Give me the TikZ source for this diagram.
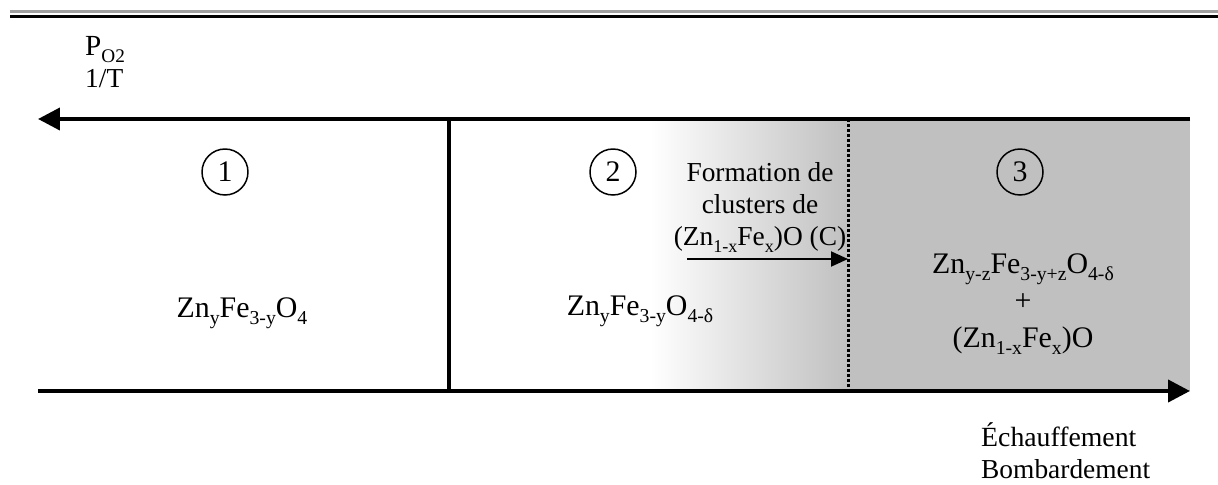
\documentclass[tikz,border=0pt]{standalone}
\usepackage{fontspec}
\setmainfont{Liberation Serif}
\usepackage{xcolor}
\usetikzlibrary{arrows.meta,positioning,calc}

\definecolor{zonegray}{RGB}{192,192,192}
\definecolor{rulegray}{RGB}{160,160,160}
\makeatletter
\newcommand{\sbs}[1]{\raisebox{-0.26em}{\fontsize{\fpeval{0.66*\f@size}}{0}\selectfont #1}}
\makeatother
\newcommand{\txtsize}{\fontsize{15.6}{18.2}\selectfont}
\newcommand{\fmlsize}{\fontsize{17}{21}\selectfont}

\begin{document}
\begin{tikzpicture}[
  x=0.02cm, y=-0.02cm,
  axis/.style={line width=0.08cm, -{Triangle[length=0.44cm, width=0.44cm]}},
  num/.style={draw, circle, line width=0.85pt, minimum size=0.92cm, inner sep=0pt, font=\fmlsize},
  phase/.style={font=\fmlsize, anchor=base, align=center},
  lbl/.style={font=\txtsize, align=center},
  sep/.style={line width=0.07cm},
  dotsep/.style={line width=0.06cm, dash pattern=on 0.06cm off 0.04cm}
]
\useasboundingbox (0,0) rectangle (1218,484);

% gray zone
\shade[left color=white, right color=zonegray] (650,119) rectangle (848,391);
\fill[zonegray] (848,119) rectangle (1190,391);

% top rule
\draw[rulegray, line width=0.054cm] (10,11.7) -- (1218,11.7);
\draw[line width=0.066cm] (10,16.7) -- (1218,16.7);

\coordinate (tr) at (1190,119);
\coordinate (tl) at (38,119);
\coordinate (bl) at (38,391);
\coordinate (br) at (1190,391);
\coordinate (s1t) at (449,119);
\coordinate (s1b) at (449,391);
\coordinate (s2t) at (848,119);
\coordinate (s2b) at (848,391);
\coordinate (cl) at (687,259);
\coordinate (cr) at (848,259);

\node[num] (n1) at (225,172) {1};
\node[num] (n2) at (613,172) {2};
\node[num] (n3) at (1020,172) {3};

\node[phase] (f1) at (242,317) {Zn\sbs{y}Fe\sbs{3-y}O\sbs{4}};
\node[phase] (f2) at (640,315) {Zn\sbs{y}Fe\sbs{3-y}O\sbs{4-δ}};
% base = last line
\node[phase] (f3) at (1023,347) {Zn\sbs{y-z}Fe\sbs{3-y+z}O\sbs{4-δ}\\+\\(Zn\sbs{1-x}Fe\sbs{x})O};

\node[lbl, anchor=base] (clus) at (760,245) {\fontsize{15.6}{18.4}\selectfont Formation de\\clusters de\\(Zn\sbs{1-x}Fe\sbs{x})O (C)};

\node[lbl, align=left, anchor=base west] (po2) at (79,87) {\fontsize{16.6}{22.5}\selectfont P\sbs{O2}\\1/T};
\node[lbl, align=left, anchor=base west] (heat) at (975,478) {\fontsize{15.8}{20.5}\selectfont Échauffement\\Bombardement};

\draw[sep] (s1t) -- (s1b);
\draw[dotsep] (s2t) -- (s2b);
\draw[line width=0.04cm, -{Triangle[length=0.34cm, width=0.3cm]}] (cl) -- (cr);
\draw[axis] (tr) -- (tl);
\draw[axis] (bl) -- (br);
\end{tikzpicture}
\end{document}
